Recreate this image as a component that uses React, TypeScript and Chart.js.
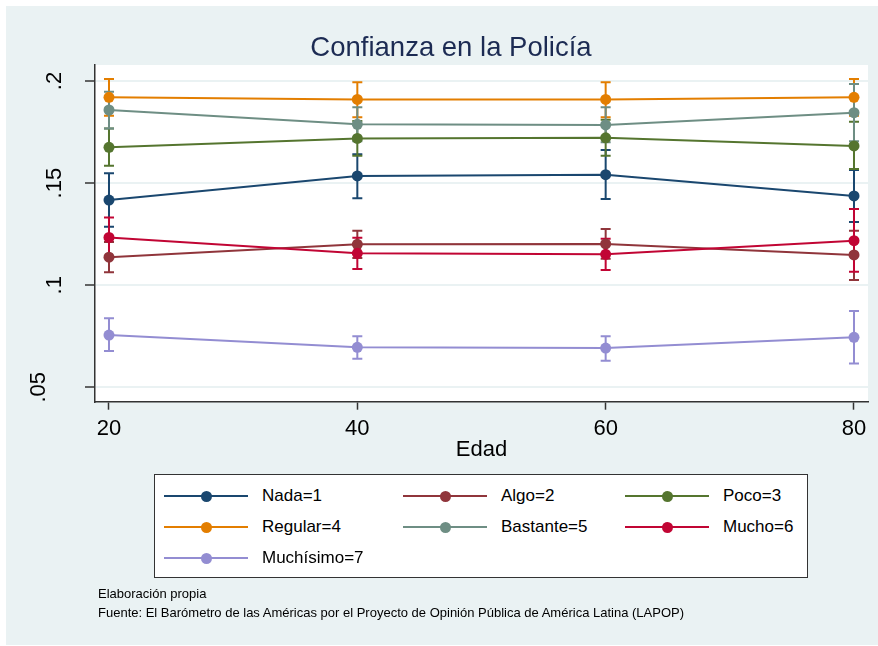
import React, { useEffect, useRef } from "react";
import { Chart, registerables } from "chart.js";

Chart.register(...registerables);

// ---- Data ----
const ages = [20, 40, 60, 80];
const xTickValues = [20, 40, 60, 80];
const yTickValues = [0.05, 0.1, 0.15, 0.2];
const yTickLabels = [".05", ".1", ".15", ".2"];

const seriesNames = ["Nada=1", "Algo=2", "Poco=3", "Regular=4", "Bastante=5", "Mucho=6", "Muchísimo=7"];
const seriesColors = ["#1a476f", "#90353b", "#55752f", "#e37e00", "#6e8e84", "#c10534", "#938dd2"];

const nadaMean = [0.1417, 0.1535, 0.1541, 0.1437];
const nadaLo = [0.1286, 0.1426, 0.1422, 0.1310];
const nadaHi = [0.1548, 0.1641, 0.1662, 0.1564];

const algoMean = [0.1137, 0.1200, 0.1202, 0.1148];
const algoLo = [0.1063, 0.1133, 0.1129, 0.1025];
const algoHi = [0.1211, 0.1267, 0.1275, 0.1267];

const pocoMean = [0.1675, 0.1719, 0.1722, 0.1682];
const pocoLo = [0.1585, 0.1634, 0.1634, 0.1569];
const pocoHi = [0.1768, 0.1804, 0.1810, 0.1801];

const regularMean = [0.1920, 0.1910, 0.1910, 0.1920];
const regularLo = [0.1830, 0.1822, 0.1822, 0.1830];
const regularHi = [0.2010, 0.1994, 0.1994, 0.2010];

const bastanteMean = [0.1858, 0.1788, 0.1785, 0.1845];
const bastanteLo = [0.1768, 0.1705, 0.1700, 0.1705];
const bastanteHi = [0.1948, 0.1871, 0.1871, 0.1985];

const muchoMean = [0.1234, 0.1156, 0.1151, 0.1218];
const muchoLo = [0.1137, 0.1079, 0.1074, 0.1066];
const muchoHi = [0.1331, 0.1233, 0.1228, 0.1373];

const muchisimoMean = [0.0756, 0.0696, 0.0692, 0.0745];
const muchisimoLo = [0.0678, 0.0640, 0.0630, 0.0617];
const muchisimoHi = [0.0838, 0.0750, 0.0750, 0.0874];

const titleText = "Confianza en la Policía";
const xTitleText = "Edad";
const note1 = "Elaboración propia";
const note2 = "Fuente: El Barómetro de las Américas por el Proyecto de Opinión Pública de América Latina (LAPOP)";

// axis ranges
const xMin = 18.873;
const xMax = 81.128;
const yMin = 0.04295;
const yMax = 0.20784;

const means = [nadaMean, algoMean, pocoMean, regularMean, bastanteMean, muchoMean, muchisimoMean];
const lows = [nadaLo, algoLo, pocoLo, regularLo, bastanteLo, muchoLo, muchisimoLo];
const highs = [nadaHi, algoHi, pocoHi, regularHi, bastanteHi, muchoHi, muchisimoHi];

const FONT = "'Liberation Sans', Arial, Helvetica, sans-serif";
const BG = "#eaf2f3";
const AXIS = "#333333";

export default function App() {
  const ref = useRef<HTMLCanvasElement>(null);

  useEffect(() => {
    document.body.style.margin = "0";
    const canvas = ref.current;
    if (!canvas) return;

    const plotBg = {
      id: "plotBg",
      beforeDraw(chart: any) {
        const { ctx, chartArea } = chart;
        ctx.save();
        ctx.fillStyle = "#ffffff";
        ctx.fillRect(chartArea.left, chartArea.top, chartArea.right - chartArea.left, chartArea.bottom - chartArea.top);
        ctx.restore();
      },
    };

    const errorBars = {
      id: "errorBars",
      beforeDatasetsDraw(chart: any) {
        const { ctx, scales } = chart;
        const xs = scales.x;
        const ys = scales.y;
        ctx.save();
        ctx.lineWidth = 2;
        for (let i = 0; i < means.length; i++) {
          ctx.strokeStyle = seriesColors[i];
          for (let j = 0; j < ages.length; j++) {
            const px = xs.getPixelForValue(ages[j]);
            const pl = ys.getPixelForValue(lows[i][j]);
            const ph = ys.getPixelForValue(highs[i][j]);
            ctx.beginPath();
            ctx.moveTo(px, pl);
            ctx.lineTo(px, ph);
            ctx.moveTo(px - 5, pl);
            ctx.lineTo(px + 5, pl);
            ctx.moveTo(px - 5, ph);
            ctx.lineTo(px + 5, ph);
            ctx.stroke();
          }
        }
        ctx.restore();
      },
    };

    const yLabels = {
      id: "yLabels",
      afterDraw(chart: any) {
        const { ctx, scales } = chart;
        const ys = scales.y;
        const shift = [-16, 0, 0, 0];
        ctx.save();
        ctx.fillStyle = "#000";
        ctx.font = `22px ${FONT}`;
        ctx.textAlign = "center";
        ctx.textBaseline = "alphabetic";
        yTickValues.forEach((v, k) => {
          const py = ys.getPixelForValue(v);
          ctx.save();
          ctx.translate(61 + shift[k], py);
          ctx.rotate(-Math.PI / 2);
          ctx.fillText(yTickLabels[k], 0, 0);
          ctx.restore();
        });
        ctx.restore();
      },
    };

    const datasets = means.map((m, i) => ({
      label: seriesNames[i],
      data: ages.map((a, j) => ({ x: a, y: m[j] })),
      borderColor: seriesColors[i],
      backgroundColor: seriesColors[i],
      pointBackgroundColor: seriesColors[i],
      pointBorderWidth: 0,
      pointRadius: 5.5,
      borderWidth: 2,
      tension: 0,
      order: -i,
      clip: false as any,
    }));

    const chart = new Chart(canvas, {
      type: "line",
      data: { datasets },
      options: {
        animation: false,
        responsive: false,
        devicePixelRatio: 1,
        layout: { padding: { top: 65, right: 10, bottom: 176, left: 0 } },
        plugins: {
          legend: { display: false },
          tooltip: { enabled: false },
          title: { display: false },
        },
        scales: {
          x: {
            type: "linear",
            min: xMin,
            max: xMax,
            afterBuildTicks: (s: any) => {
              s.ticks = xTickValues.map((v) => ({ value: v }));
            },
            afterFit: (s: any) => {
              s.height = 68.3;
            },
            grid: {
              drawOnChartArea: false,
              drawTicks: true,
              tickLength: 8,
              tickColor: AXIS,
              tickWidth: 1.5,
            },
            border: { display: true, color: AXIS, width: 1.5 },
            ticks: {
              color: "#000",
              font: { family: FONT, size: 22 },
              padding: 6,
              maxRotation: 0,
              minRotation: 0,
              callback: (v: any) => String(v),
            },
          },
          y: {
            type: "linear",
            min: yMin,
            max: yMax,
            afterBuildTicks: (s: any) => {
              s.ticks = yTickValues.map((v) => ({ value: v }));
            },
            afterFit: (s: any) => {
              s.width = 95;
            },
            grid: {
              color: BG,
              lineWidth: 2,
              drawTicks: true,
              tickLength: 10,
              tickColor: AXIS,
              tickWidth: 1.5,
            },
            border: { display: true, color: AXIS, width: 1.5 },
            ticks: { display: false },
          },
        },
      },
      plugins: [plotBg, errorBars, yLabels],
    } as any);

    return () => chart.destroy();
  }, []);

  const colX = [164, 403, 625];
  const rowY = [496, 527, 558];

  return (
    <div style={{ position: "fixed", left: 0, top: 0, width: 878, height: 646, background: "#ffffff", fontFamily: FONT, overflow: "hidden" }}>
      <div style={{ position: "absolute", left: 6, top: 6, width: 872, height: 639, background: BG }} />
      <canvas ref={ref} width={878} height={646} style={{ position: "absolute", left: 0, top: 0, width: 878, height: 646 }} />
      <div style={{ position: "absolute", left: 0, width: 902, top: 30, textAlign: "center", fontSize: 27.5, lineHeight: "34px", color: "#1c2b53", whiteSpace: "nowrap" }}>
        {titleText}
      </div>
      <div style={{ position: "absolute", left: 95, width: 773, top: 436, textAlign: "center", fontSize: 22, lineHeight: "26px", color: "#000" }}>
        {xTitleText}
      </div>
      <div style={{ position: "absolute", left: 154, top: 474, width: 654, height: 104, boxSizing: "border-box", border: "1px solid #333", background: "#fff" }} />
      {seriesNames.map((name, i) => {
        const cx = colX[i % 3];
        const cy = rowY[Math.floor(i / 3)];
        return (
          <React.Fragment key={name}>
            <div style={{ position: "absolute", left: cx, top: cy - 1, width: 84, height: 2, background: seriesColors[i] }} />
            <div style={{ position: "absolute", left: cx + 42 - 5.5, top: cy - 5.5, width: 11, height: 11, borderRadius: "50%", background: seriesColors[i] }} />
            <div style={{ position: "absolute", left: cx + 98, top: cy - 11, fontSize: 17, lineHeight: "22px", color: "#000", whiteSpace: "nowrap" }}>{name}</div>
          </React.Fragment>
        );
      })}
      <div style={{ position: "absolute", left: 98, top: 586, fontSize: 13, lineHeight: "16px", color: "#000", whiteSpace: "nowrap" }}>{note1}</div>
      <div style={{ position: "absolute", left: 98, top: 605, fontSize: 13, lineHeight: "16px", color: "#000", whiteSpace: "nowrap" }}>{note2}</div>
    </div>
  );
}
